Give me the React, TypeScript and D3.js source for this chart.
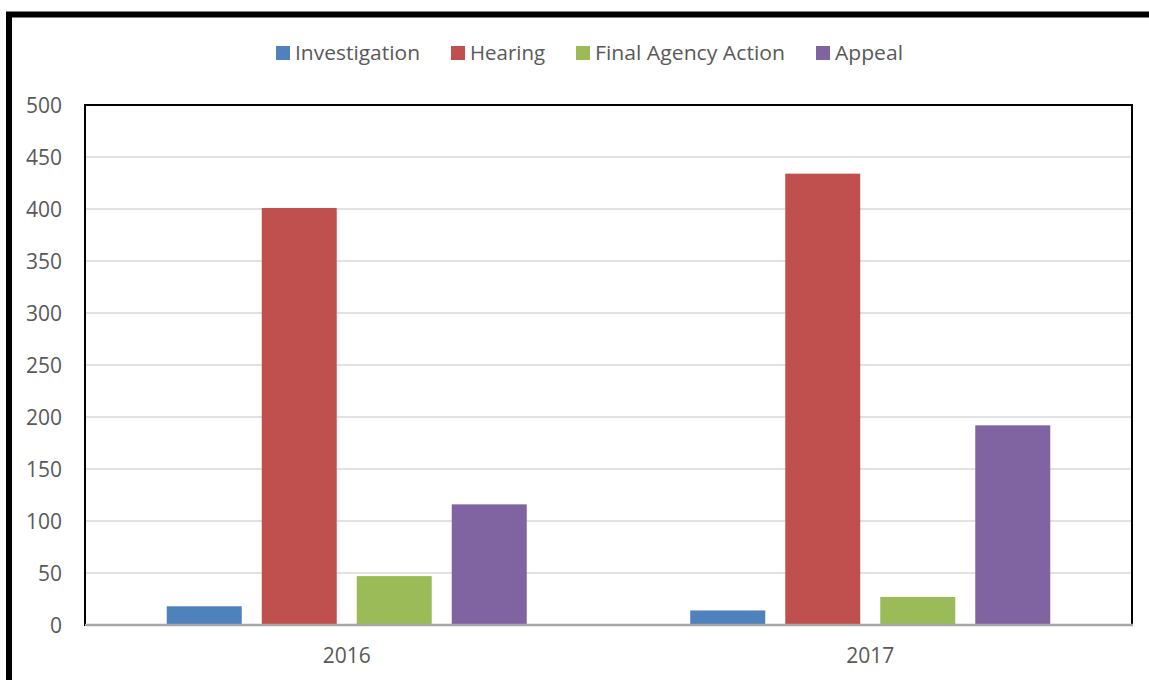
import * as d3 from "d3";

const years = ["2016", "2017"];
const stages = ["Investigation", "Hearing", "Final Agency Action", "Appeal"];
const investigation = [18, 14];
const hearing = [401, 434];
const finalAgencyAction = [47, 27];
const appeal = [116, 192];
const yTicks = [0, 50, 100, 150, 200, 250, 300, 350, 400, 450, 500];

const COLORS = ["#4f81bd", "#c0504d", "#9bbb59", "#8064a2"];
const WIDTH = 1149;
const HEIGHT = 680;
const PLOT = { left: 85, right: 1132, top: 105, bottom: 625 };
const FONT = "'Open Sans', sans-serif";
const TEXT_COLOR = "#595959";

const LEGEND = [
  { x: 276, textWidth: 125 },
  { x: 451, textWidth: 75 },
  { x: 576, textWidth: 190 },
  { x: 816, textWidth: 68 },
];

export default function App() {
  const series = [investigation, hearing, finalAgencyAction, appeal];

  const x0 = d3.scaleBand().domain(years).range([PLOT.left, PLOT.right]).padding(0);
  const x1 = d3
    .scaleBand()
    .domain(stages)
    .range([0, x0.bandwidth()])
    .paddingInner(0.2105)
    .paddingOuter(0.8605);
  const y = d3.scaleLinear().domain([0, 500]).range([PLOT.bottom, PLOT.top]);

  return (
    <svg
      width={WIDTH}
      height={HEIGHT}
      style={{ position: "absolute", left: 0, top: 0, background: "#fff" }}
    >
      {/* outer frame, runs off the right and bottom edges */}
      <rect x={9} y={14.5} width={WIDTH + 20} height={HEIGHT + 20} fill="#fff" stroke="#000" strokeWidth={6} />

      {/* legend */}
      {stages.map((s, i) => (
        <g key={s}>
          <rect x={LEGEND[i].x} y={46} width={14} height={14} fill={COLORS[i]} />
          <text
            x={LEGEND[i].x + 19}
            y={60}
            fontFamily={FONT}
            fontSize={20}
            fill={TEXT_COLOR}
            textLength={LEGEND[i].textWidth}
            lengthAdjust="spacingAndGlyphs"
          >
            {s}
          </text>
        </g>
      ))}

      {/* gridlines */}
      {yTicks.slice(1).map((t) => (
        <line key={t} x1={PLOT.left} x2={PLOT.right} y1={y(t)} y2={y(t)} stroke="#d9d9d9" strokeWidth={1.5} />
      ))}

      {/* y tick labels */}
      {yTicks.map((t) => (
        <text
          key={t}
          x={62}
          y={y(t) + 7.5}
          textAnchor="end"
          fontFamily={FONT}
          fontSize={21}
          fill={TEXT_COLOR}
        >
          {t}
        </text>
      ))}

      {/* bars */}
      {years.map((yr, yi) => (
        <g key={yr} transform={`translate(${x0(yr)},0)`}>
          {stages.map((s, si) => (
            <rect
              key={s}
              x={x1(s)}
              y={y(series[si][yi])}
              width={x1.bandwidth()}
              height={y(0) - y(series[si][yi])}
              fill={COLORS[si]}
            />
          ))}
        </g>
      ))}

      {/* plot frame */}
      <rect
        x={PLOT.left}
        y={PLOT.top}
        width={PLOT.right - PLOT.left}
        height={PLOT.bottom - PLOT.top}
        fill="none"
        stroke="#000"
        strokeWidth={2}
      />
      <line x1={PLOT.left} x2={PLOT.right + 1} y1={PLOT.bottom} y2={PLOT.bottom} stroke="#a6a6a6" strokeWidth={2.5} />

      {/* x labels */}
      {years.map((yr) => (
        <text
          key={yr}
          x={(x0(yr) ?? 0) + x0.bandwidth() / 2}
          y={663}
          textAnchor="middle"
          fontFamily={FONT}
          fontSize={21}
          fill={TEXT_COLOR}
        >
          {yr}
        </text>
      ))}
    </svg>
  );
}
